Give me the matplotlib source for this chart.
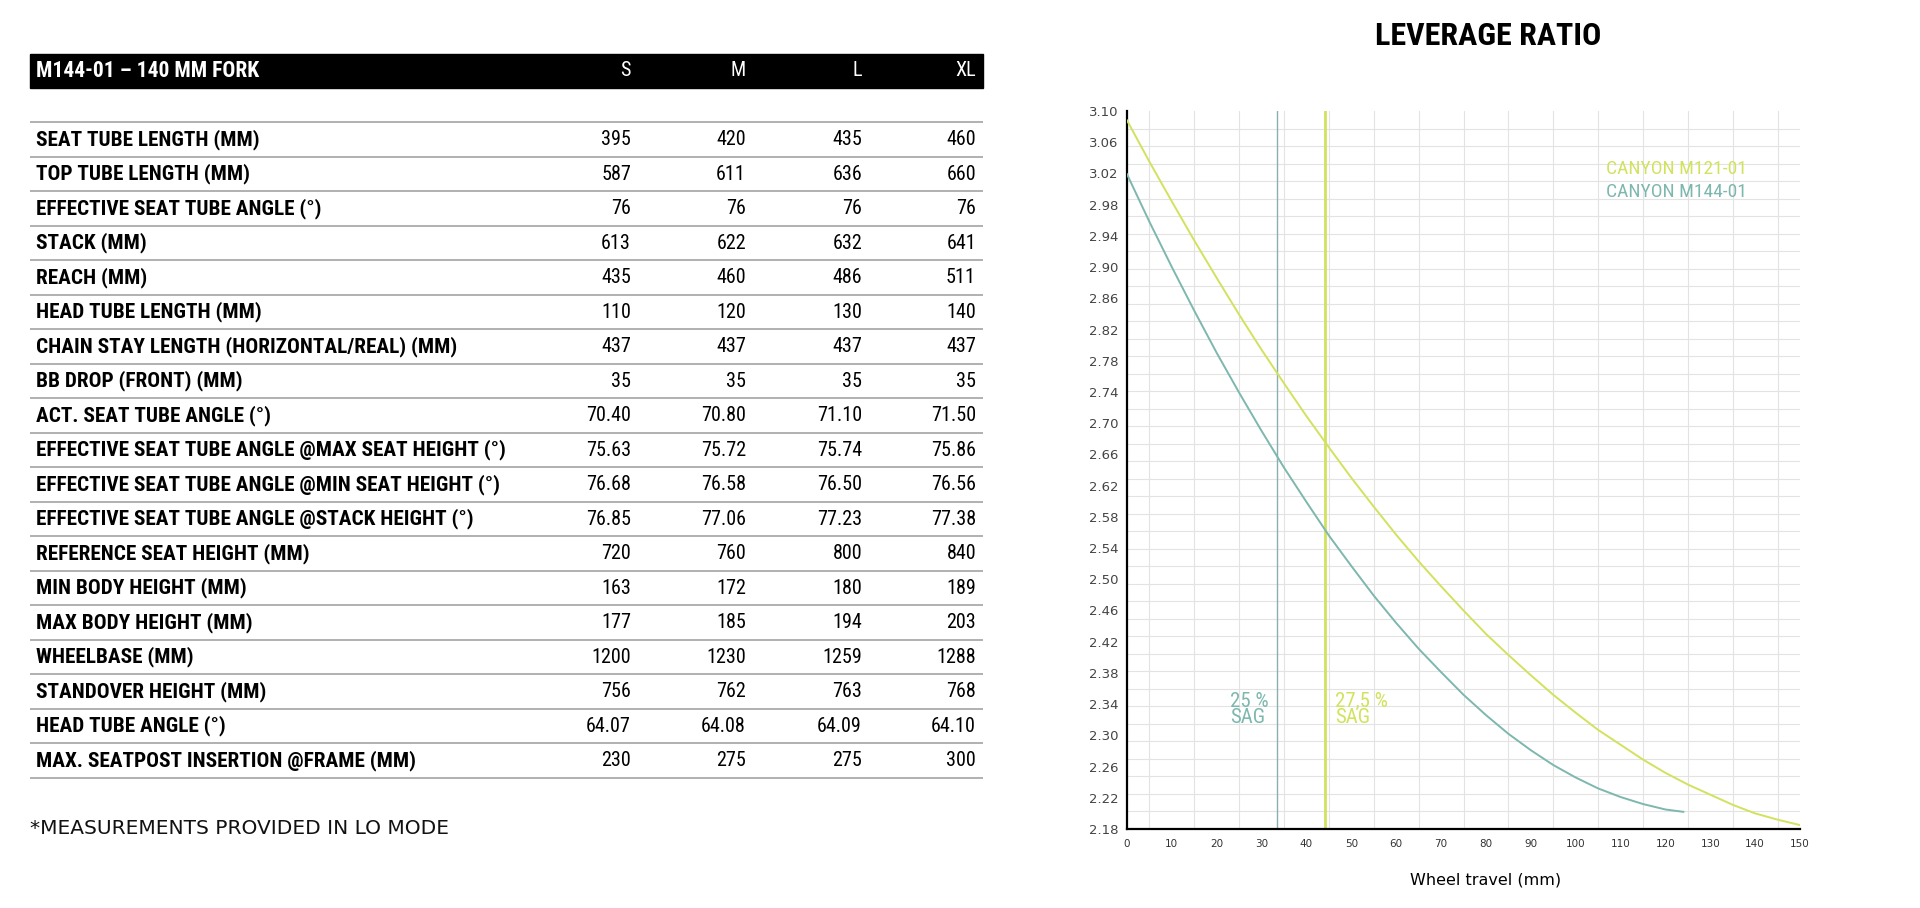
import numpy as np
import matplotlib
matplotlib.use('Agg')
import matplotlib.pyplot as plt
from matplotlib.patches import Rectangle
from matplotlib import font_manager as fm

# --- fonts: use a narrow face if one is installed ---
avail = {f.name for f in fm.fontManager.ttflist}
def pick(cands):
    for c in cands:
        if c in avail:
            return c
    return 'DejaVu Sans'

NARROW = pick(['Roboto Condensed', 'Liberation Sans Narrow', 'Noto Sans Condensed',
               'Open Sans Condensed', 'DejaVu Sans Condensed'])

# --- geometry table ---
title_row = 'M144-01 – 140 MM FORK'
sizes = ['S', 'M', 'L', 'XL']
row_labels = [
    'SEAT TUBE LENGTH (MM)',
    'TOP TUBE LENGTH (MM)',
    'EFFECTIVE SEAT TUBE ANGLE (°)',
    'STACK (MM)',
    'REACH (MM)',
    'HEAD TUBE LENGTH (MM)',
    'CHAIN STAY LENGTH (HORIZONTAL/REAL) (MM)',
    'BB DROP (FRONT) (MM)',
    'ACT. SEAT TUBE ANGLE (°)',
    'EFFECTIVE SEAT TUBE ANGLE @MAX SEAT HEIGHT (°)',
    'EFFECTIVE SEAT TUBE ANGLE @MIN SEAT HEIGHT (°)',
    'EFFECTIVE SEAT TUBE ANGLE @STACK HEIGHT (°)',
    'REFERENCE SEAT HEIGHT (MM)',
    'MIN BODY HEIGHT (MM)',
    'MAX BODY HEIGHT (MM)',
    'WHEELBASE (MM)',
    'STANDOVER HEIGHT (MM)',
    'HEAD TUBE ANGLE (°)',
    'MAX. SEATPOST INSERTION @FRAME (MM)',
]
vals_s = ['395', '587', '76', '613', '435', '110', '437', '35', '70.40', '75.63',
          '76.68', '76.85', '720', '163', '177', '1200', '756', '64.07', '230']
vals_m = ['420', '611', '76', '622', '460', '120', '437', '35', '70.80', '75.72',
          '76.58', '77.06', '760', '172', '185', '1230', '762', '64.08', '275']
vals_l = ['435', '636', '76', '632', '486', '130', '437', '35', '71.10', '75.74',
          '76.50', '77.23', '800', '180', '194', '1259', '763', '64.09', '275']
vals_xl = ['460', '660', '76', '641', '511', '140', '437', '35', '71.50', '75.86',
           '76.56', '77.38', '840', '189', '203', '1288', '768', '64.10', '300']
footnote = '*MEASUREMENTS PROVIDED IN LO MODE'

# --- leverage ratio curves ---
travel_m121 = [0, 5, 10, 15, 20, 25, 30, 35, 40, 45, 50, 55, 60, 65, 70, 75,
               80, 85, 90, 95, 100, 105, 110, 115, 120, 125, 130, 135, 140, 145, 150]
lev_m121 = [3.088, 3.035, 2.984, 2.934, 2.886, 2.839, 2.794, 2.751, 2.709, 2.669,
            2.630, 2.593, 2.557, 2.523, 2.491, 2.460, 2.430, 2.403, 2.377, 2.352,
            2.329, 2.307, 2.288, 2.269, 2.252, 2.237, 2.224, 2.211, 2.200, 2.192, 2.185]
travel_m144 = [0, 5, 10, 15, 20, 25, 30, 35, 40, 45, 50, 55, 60, 65, 70, 75,
               80, 85, 90, 95, 100, 105, 110, 115, 120, 124]
lev_m144 = [3.019, 2.958, 2.900, 2.844, 2.790, 2.739, 2.690, 2.643, 2.599, 2.556,
            2.517, 2.479, 2.444, 2.411, 2.381, 2.352, 2.326, 2.302, 2.281, 2.262,
            2.246, 2.232, 2.221, 2.212, 2.205, 2.202]
sag_m144 = 33.5   # 25 % sag
sag_m121 = 44.1   # 27.5 % sag
x_ticks = [0, 10, 20, 30, 40, 50, 60, 70, 80, 90, 100, 110, 120, 130, 140, 150]
y_ticks = [2.18, 2.22, 2.26, 2.30, 2.34, 2.38, 2.42, 2.46, 2.50, 2.54, 2.58, 2.62,
           2.66, 2.70, 2.74, 2.78, 2.82, 2.86, 2.90, 2.94, 2.98, 3.02, 3.06, 3.10]

LIME = '#d2e25e'
TEAL = '#7db7ae'
TEAL_LINE = '#8aaeb1'

W, H = 1920, 908
fig = plt.figure(figsize=(W / 100, H / 100), dpi=100)

# ---------- table (drawn in pixel coords on a full-figure axes) ----------
tab = fig.add_axes([0, 0, 1, 1])
tab.set_xlim(0, W)
tab.set_ylim(H, 0)
tab.axis('off')

left, right = 30, 983
col_right = [631, 746, 862, 976]
tab.add_patch(Rectangle((left, 54), right - left, 34, color='black'))
tab.text(36, 71, title_row, color='white', fontsize=15.5, fontweight='bold',
         family=NARROW, va='center', ha='left')
for s, x in zip(sizes, col_right):
    tab.text(x, 71, s, color='white', fontsize=14.5, family=NARROW,
             va='center', ha='right')

top_line = 122.3
row_h = 34.5
columns = [vals_s, vals_m, vals_l, vals_xl]
tab.hlines(top_line, left, right, color='#aaaaaa', lw=1.3)
for i, lab in enumerate(row_labels):
    yc = top_line + (i + 0.5) * row_h
    tab.text(36, yc, lab, fontsize=15.3, fontweight='bold', family=NARROW,
             va='center', ha='left', color='black')
    for col, x in zip(columns, col_right):
        tab.text(x, yc, col[i], fontsize=14.5, family=NARROW,
                 va='center', ha='right', color='black')
    tab.hlines(top_line + (i + 1) * row_h, left, right, color='#aaaaaa', lw=1.3)

tab.text(30, 829, footnote, fontsize=14.5, family='DejaVu Sans', va='center',
         ha='left', color='#111111')

# ---------- leverage ratio chart ----------
ax = fig.add_axes([1127 / W, 79 / H, 673 / W, 718 / H])
ax.plot(travel_m121, lev_m121, color=LIME, lw=1.4, zorder=3)
ax.plot(travel_m144, lev_m144, color=TEAL, lw=1.4, zorder=3)
ax.axvline(sag_m144, color=TEAL_LINE, lw=1.0, zorder=2)
ax.axvline(sag_m121, color=LIME, lw=2.0, zorder=2)

ax.text(23.0, 2.356, '25 %\nSAG', color=TEAL, fontsize=15, family=NARROW,
        va='top', ha='left', linespacing=0.85)
ax.text(46.4, 2.356, '27,5 %\nSAG', color=LIME, fontsize=15, family=NARROW,
        va='top', ha='left', linespacing=0.85)
ax.text(106.7, 3.026, 'CANYON M121-01', color=LIME, fontsize=14, family=NARROW,
        va='center', ha='left')
ax.text(106.7, 2.996, 'CANYON M144-01', color=TEAL, fontsize=14, family=NARROW,
        va='center', ha='left')

ax.set_xlim(0, 150)
ax.set_ylim(2.18, 3.10)
ax.set_xticks(x_ticks)
ax.set_xticklabels([str(t) for t in x_ticks])
ax.set_yticks(y_ticks)
ax.set_yticklabels(['%.2f' % t for t in y_ticks])
ax.set_xticks(np.arange(0, 151, 5), minor=True)
ax.set_yticks(np.linspace(2.18, 3.10, 42), minor=True)
ax.grid(which='minor', color='#e3e3e3', lw=0.8)
ax.grid(which='major', visible=False)
ax.set_axisbelow(True)
ax.tick_params(which='both', length=0)
ax.tick_params(axis='y', labelsize=9.5, labelcolor='#444444', pad=6)
ax.tick_params(axis='x', labelsize=7.5, labelcolor='#333333', pad=7)
for side in ['top', 'right']:
    ax.spines[side].set_visible(False)
for side in ['left', 'bottom']:
    ax.spines[side].set_color('black')
    ax.spines[side].set_linewidth(1.6)

fig.text(1488 / W, 1 - 36 / H, 'LEVERAGE RATIO', fontsize=23, fontweight='bold',
         family=NARROW, ha='center', va='center')
fig.text(1486 / W, 1 - 880 / H, 'Wheel travel (mm)', fontsize=11.5,
         family='DejaVu Sans', ha='center', va='center')

fig.savefig('out.png', dpi=100)
